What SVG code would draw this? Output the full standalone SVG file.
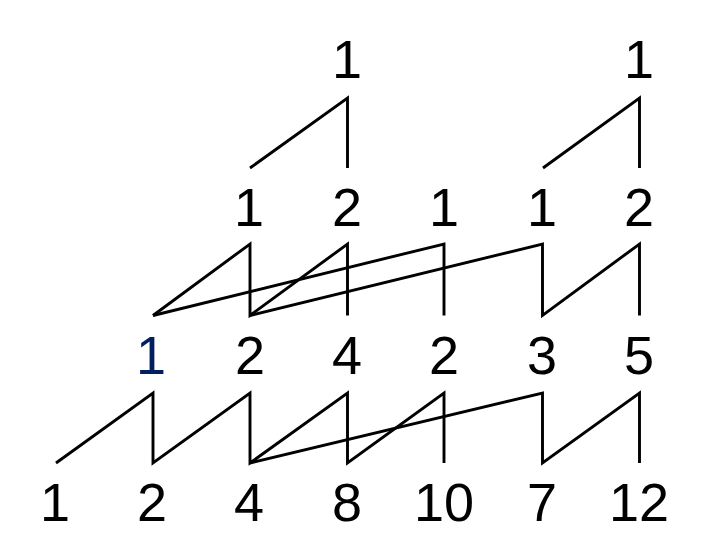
<svg xmlns="http://www.w3.org/2000/svg" width="704" height="557" viewBox="0 0 704 557">
<style>
.n{font-family:"Liberation Sans",Arial,sans-serif;font-size:54px;fill:#000;text-anchor:middle}
.b{fill:#002060}
.c{fill:none;stroke:#000;stroke-width:2.9;stroke-linejoin:miter;stroke-linecap:butt}
</style>
<rect width="704" height="557" fill="#fff"/>
<g id="connectors" class="c">
<polyline points="250,168 347.5,98 347.5,168"/>
<polyline points="543,168 639.5,98 639.5,168"/>
<polyline points="153,315.5 250,244 250,315.5 347.5,244 347.5,315.5"/>
<polyline points="153,315.5 444,244 444,315.5"/>
<polyline points="250,315.5 542.5,244 542.5,315.5 639.5,244 639.5,315.5"/>
<polyline points="56,463 153,393 153,463 250,393 250,463 347.5,393 347.5,463 444,393 444,463"/>
<polyline points="250,463 542.5,393 542.5,463 639.5,393 639.5,463"/>
</g>
<g id="r1a"><text class="n" x="347" y="78">1</text></g>
<g id="r1b"><text class="n" x="639" y="78">1</text></g>
<g id="r2a"><text class="n" x="249" y="226">1</text></g>
<g id="r2b"><text class="n" x="347" y="226">2</text></g>
<g id="r2c"><text class="n" x="444" y="226">1</text></g>
<g id="r2d"><text class="n" x="542" y="226">1</text></g>
<g id="r2e"><text class="n" x="639" y="226">2</text></g>
<g id="r3a"><text class="n b" x="151" y="374">1</text></g>
<g id="r3b"><text class="n" x="250" y="374">2</text></g>
<g id="r3c"><text class="n" x="347" y="374">4</text></g>
<g id="r3d"><text class="n" x="444" y="374">2</text></g>
<g id="r3e"><text class="n" x="542" y="374">3</text></g>
<g id="r3f"><text class="n" x="639" y="374">5</text></g>
<g id="r4a"><text class="n" x="55" y="521">1</text></g>
<g id="r4b"><text class="n" x="152" y="521">2</text></g>
<g id="r4c"><text class="n" x="249" y="521">4</text></g>
<g id="r4d"><text class="n" x="347" y="521">8</text></g>
<g id="r4e"><text class="n" x="444" y="521">10</text></g>
<g id="r4f"><text class="n" x="542" y="521">7</text></g>
<g id="r4g"><text class="n" x="639" y="521">12</text></g>
</svg>
